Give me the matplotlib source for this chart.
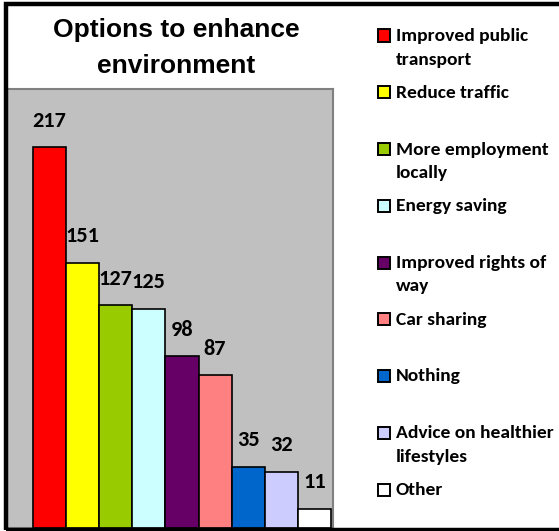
import matplotlib
matplotlib.use("Agg")
import matplotlib.pyplot as plt
from matplotlib.patches import Rectangle

categories = ["Improved public\ntransport", "Reduce traffic", "More employment\nlocally",
              "Energy saving", "Improved rights of\nway", "Car sharing", "Nothing",
              "Advice on healthier\nlifestyles", "Other"]
values = [217, 151, 127, 125, 98, 87, 35, 32, 11]
colors = ["#FF0000", "#FFFF00", "#99CC00", "#CCFFFF", "#660066", "#FF8080",
          "#0066CC", "#CCCCFF", "#FFFFFF"]
title_lines = ["Options to enhance", "environment"]

BODY = ["Carlito", "Lato", "DejaVu Sans"]
TITLE = ["Liberation Sans", "Arial", "DejaVu Sans"]

W, H = 559, 531
fig = plt.figure(figsize=(W / 100, H / 100), dpi=100)

# outer black frame
fig.patches.append(Rectangle((6 / W, 1.5 / H), 1.2, 1 - 5.5 / H, transform=fig.transFigure,
                             fill=False, edgecolor="black", linewidth=3.2, zorder=0))

ax = fig.add_axes([7 / W, 3 / H, 326 / W, 439 / H])
ax.set_facecolor("#C0C0C0")
for s in ax.spines.values():
    s.set_edgecolor("#808080")
    s.set_linewidth(1.5)
x = list(range(len(values)))
ax.bar(x, values, width=1.0, color=colors, edgecolor="black", linewidth=1.2, zorder=3)
ax.set_xlim(-1.285, 8.56)
ax.set_ylim(0, 250)
ax.set_xticks([])
ax.set_yticks([])
for xi, v in zip(x, values):
    ax.annotate(str(v), (xi, v), xytext=(0, 19), textcoords="offset points",
                ha="center", va="center", fontsize=16, fontweight="bold",
                family=BODY, color="black", zorder=4)

# title
for k, line in enumerate(title_lines):
    fig.text(176 / W, 1 - (37.5 + 35.5 * k) / H, line, ha="center", va="baseline",
             fontsize=19, fontweight="bold", family=TITLE)

# legend
for i, (lab, c) in enumerate(zip(categories, colors)):
    base = 41 + i * 56.75
    fig.patches.append(Rectangle((377.5 / W, 1 - (base + 0.5) / H), 12 / W, 12 / H,
                                 transform=fig.transFigure, facecolor=c,
                                 edgecolor="black", linewidth=1.4))
    for k, part in enumerate(lab.split("\n")):
        fig.text(396 / W, 1 - (base + 23.5 * k) / H, part, ha="left", va="baseline",
                 fontsize=14, fontweight="bold", family=BODY)

fig.savefig("out.png", dpi=100)
